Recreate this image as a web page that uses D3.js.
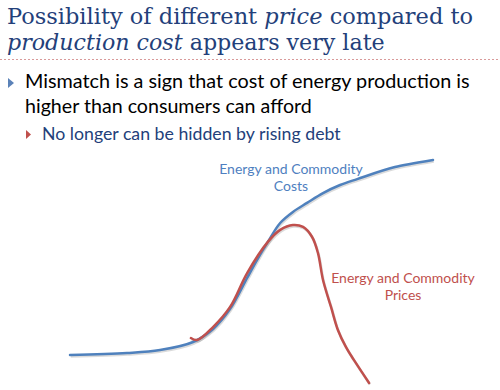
<!DOCTYPE html>
<html>
<head>
<meta charset="utf-8">
<script src="https://cdn.jsdelivr.net/npm/d3@7"></script>
<style>
  body { margin: 0; background: #fff; }
</style>
</head>
<body>
<div id="chart"></div>
<script>
// Dataset: abstract time (0-100) vs level
const costT = [0, 15.7, 24.8, 33.9, 39.4, 44.1, 48.8, 51.5, 54.5, 57.9, 61.4, 65.3, 69.7, 74.4, 79.1, 89.5, 100];
const costV = [0, 1.0, 2.5, 6.6, 13.2, 23.4, 39.1, 48.2, 57.4, 67.0, 72.6, 77.2, 82.2, 86.3, 89.3, 95.4, 99.0];

const priceT = [33.3, 35.0, 39.4, 44.1, 48.8, 54.5, 57.9, 61.4, 64.2, 66.7, 68.3, 69.7, 71.9, 73.8, 76.0, 78.2, 82.4];
const priceV = [8.6, 7.6, 14.2, 24.4, 41.6, 57.4, 63.5, 66.0, 65.0, 59.9, 51.8, 38.1, 24.4, 12.7, 4.1, -2.5, -14.2];

const costLabel = ["Energy and Commodity", "Costs"];
const priceLabel = ["Energy and Commodity", "Prices"];

const costs = costT.map((t, i) => ({ t, v: costV[i] }));
const prices = priceT.map((t, i) => ({ t, v: priceV[i] }));

// Dimensions
let dimensions = {
    width: 500,
    height: 390,
}

const svg = d3.select("#chart")
    .append("svg")
    .attr("width", dimensions.width)
    .attr("height", dimensions.height)

// fit a text to a target width by tuning its font size
function fitWidth(sel, size, target) {
    sel.style("font-size", size + "px")
    const w = sel.node().getComputedTextLength()
    sel.style("font-size", (size * target / w).toFixed(2) + "px")
}

// Title
const navy = "#23407a"
const titleFont = "'DejaVu Serif', 'Liberation Serif', serif"
const title1 = svg.append("text")
    .attr("x", 7).attr("y", 24)
    .attr("fill", navy)
    .style("font-family", titleFont)
title1.append("tspan").text("Possibility of different ")
title1.append("tspan").style("font-style", "italic").text("price")
title1.append("tspan").text(" compared to")
fitWidth(title1, 24, 466)

const title2 = svg.append("text")
    .attr("x", 7).attr("y", 50)
    .attr("fill", navy)
    .style("font-family", titleFont)
title2.append("tspan").style("font-style", "italic").text("production cost")
title2.append("tspan").text(" appears very late")
fitWidth(title2, 24, 378)

svg.append("line")
    .attr("x1", 0).attr("x2", 500)
    .attr("y1", 59.5).attr("y2", 59.5)
    .attr("stroke", "#d99a9a")
    .attr("stroke-width", 1)
    .attr("stroke-dasharray", "2,2")

// Bullets
svg.append("path")
    .attr("d", "M8,78 L14,83 L8,88 Z")
    .attr("fill", "#5b82b8")
svg.append("path")
    .attr("d", "M26,130 L31,134.5 L26,139 Z")
    .attr("fill", "#c0504d")

const bodyFont = "Lato, 'Open Sans', sans-serif"
const b1 = svg.append("text")
    .attr("x", 25).attr("y", 88)
    .style("font-family", bodyFont)
    .attr("fill", "#000")
    .text("Mismatch is a sign that cost of energy production is")
fitWidth(b1, 20, 445)
const b2 = svg.append("text")
    .attr("x", 25).attr("y", 113)
    .style("font-family", bodyFont)
    .attr("fill", "#000")
    .text("higher than consumers can afford")
fitWidth(b2, 20, 287)
const b3 = svg.append("text")
    .attr("x", 42).attr("y", 140)
    .style("font-family", bodyFont)
    .attr("fill", navy)
    .text("No longer can be hidden by rising debt")
fitWidth(b3, 18, 299)

// Scales
const xScale = d3.scaleLinear()
    .domain([0, 100])
    .range([70, 433])
const yScale = d3.scaleLinear()
    .domain([0, 100])
    .range([355, 158])

const line = d3.line()
    .x((d) => xScale(d.t))
    .y((d) => yScale(d.v))
    .curve(d3.curveCatmullRom.alpha(0.5))

const blue = "#4f81bd"
const red = "#c0504d"

// shadows
const shadow = svg.append("g").attr("transform", "translate(0.8,1.5)")
shadow.append("path").datum(costs).attr("d", line)
    .attr("fill", "none").attr("stroke", "#888").attr("stroke-opacity", 0.3).attr("stroke-width", 2.5)
shadow.append("path").datum(prices).attr("d", line)
    .attr("fill", "none").attr("stroke", "#888").attr("stroke-opacity", 0.3).attr("stroke-width", 2.5)

svg.append("path").datum(costs).attr("d", line)
    .attr("fill", "none").attr("stroke", blue).attr("stroke-width", 2.5)
    .attr("stroke-linecap", "round")
svg.append("path").datum(prices).attr("d", line)
    .attr("fill", "none").attr("stroke", red).attr("stroke-width", 2.5)
    .attr("stroke-linecap", "round")

// Labels
const labelFont = "Lato, 'Open Sans', sans-serif"
svg.append("g").selectAll("text")
    .data(costLabel)
    .join("text")
    .attr("x", 291)
    .attr("y", (d, i) => 174 + i * 17)
    .attr("text-anchor", "middle")
    .attr("fill", "#4f7fc0")
    .style("font-family", labelFont).style("font-size", "14px")
    .text((d) => d)
svg.append("g").selectAll("text")
    .data(priceLabel)
    .join("text")
    .attr("x", 403)
    .attr("y", (d, i) => 283 + i * 17)
    .attr("text-anchor", "middle")
    .attr("fill", "#c0504d")
    .style("font-family", labelFont).style("font-size", "14px")
    .text((d) => d)
</script>
</body>
</html>
